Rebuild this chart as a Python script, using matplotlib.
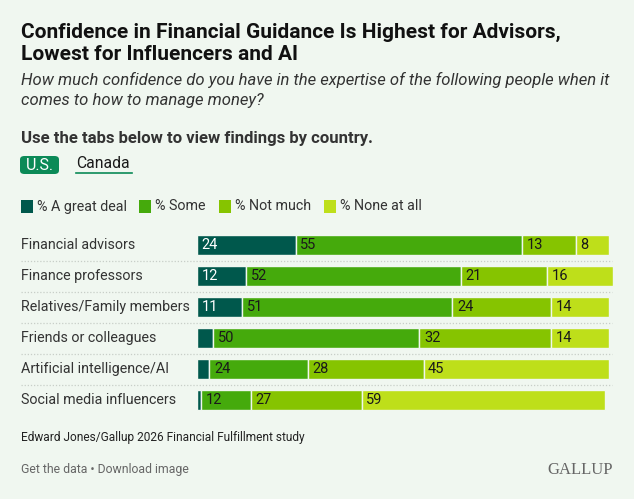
import matplotlib.pyplot as plt
from matplotlib.patches import FancyBboxPatch, Rectangle
from matplotlib.lines import Line2D

plt.rcParams['font.family'] = ['Roboto', 'DejaVu Sans']

# data
categories = ['Financial advisors', 'Finance professors', 'Relatives/Family members',
              'Friends or colleagues', 'Artificial intelligence/AI', 'Social media influencers']
series_names = ['% A great deal', '% Some', '% Not much', '% None at all']
great_deal = [24, 12, 11, 4, 3, 1]
some = [55, 52, 51, 50, 24, 12]
not_much = [13, 21, 24, 32, 28, 27]
none_at_all = [8, 16, 14, 14, 45, 59]
colors = ['#00584C', '#45AA0C', '#86C400', '#BEDF1A']
text_colors = ['white', '#1a1a1a', '#1a1a1a', '#1a1a1a']

W, H = 634, 499
bg = '#F0F7F0'
fig = plt.figure(figsize=(W / 100, H / 100), dpi=100, facecolor=bg)

def fx(x):
    return x / W

def fy(y):
    return 1 - y / H

# header texts
fig.text(fx(21), fy(32), 'Confidence in Financial Guidance Is Highest for Advisors,',
         fontsize=15, fontweight='bold', color='#111111', va='center')
fig.text(fx(21), fy(55), 'Lowest for Influencers and AI',
         fontsize=15, fontweight='bold', color='#111111', va='center')
fig.text(fx(21), fy(80), 'How much confidence do you have in the expertise of the following people when it',
         fontsize=12, style='italic', color='#333333', va='center')
fig.text(fx(21), fy(100), 'comes to how to manage money?',
         fontsize=12, style='italic', color='#333333', va='center')
fig.text(fx(21), fy(139), 'Use the tabs below to view findings by country.',
         fontsize=12, fontweight='bold', color='#333333', va='center')

# tabs
tab = FancyBboxPatch((fx(20), fy(174)), fx(39), 18 / H,
                     boxstyle='round,pad=0,rounding_size=0.007',
                     transform=fig.transFigure, facecolor='#0B8A57', edgecolor='none')
fig.add_artist(tab)
fig.text(fx(39.5), fy(165), 'U.S.', fontsize=11.5, color='white', ha='center', va='center')
fig.text(fx(76), fy(164), 'Canada', fontsize=11.3, color='#1a1a1a', va='center')
fig.add_artist(Line2D([fx(76), fx(132)], [fy(173), fy(173)], color='#0B8A57', lw=1.2,
                      transform=fig.transFigure))

# legend
legend_x = [21, 139, 219, 324]
for lx, name, c in zip(legend_x, series_names, colors):
    fig.add_artist(Rectangle((fx(lx), fy(213)), fx(12), 13 / H, transform=fig.transFigure,
                             facecolor=c, edgecolor='none'))
    fig.text(fx(lx + 16), fy(206.5), name, fontsize=10.3, color='#333333', va='center')

# bars
bar_left, bar_right = 197, 613
top = 229.5
row_h = 31
n = len(categories)
ax = fig.add_axes([fx(bar_left), fy(top + row_h * n), (bar_right - bar_left) / W, row_h * n / H])
ax.set_facecolor('none')
ax.set_xlim(0, 101)
ax.set_ylim(n - 0.5, -0.5)
ax.axis('off')

series = [great_deal, some, not_much, none_at_all]
ypos = list(range(n))
left = [0] * n
for vals, c, tc in zip(series, colors, text_colors):
    ax.barh(ypos, vals, left=left, height=0.645, color=c, edgecolor=bg, linewidth=1)
    for i, v in enumerate(vals):
        if v >= 8:
            ax.text(left[i] + 1.1, i, str(v), fontsize=10.5, color=tc, va='center', ha='left')
    left = [l + v for l, v in zip(left, vals)]

# dotted separators and category labels
tr = ax.get_yaxis_transform()
x0 = (21 - bar_left) / (bar_right - bar_left)
x1 = (612 - bar_left) / (bar_right - bar_left)
for i in range(n - 1):
    ax.plot([x0, x1], [i + 0.5, i + 0.5], transform=tr, color='#C8CEC8', lw=0.9,
            linestyle=(0, (1, 1.5)), clip_on=False)
for i, cat in enumerate(categories):
    ax.text(x0, i, cat, transform=tr, fontsize=10.3, color='#333333', va='center', ha='left')

# footer
fig.text(fx(21), fy(437), 'Edward Jones/Gallup 2026 Financial Fulfillment study',
         fontsize=8.6, color='#222222', va='center')
fig.text(fx(21), fy(470), 'Get the data \u2022 Download image',
         fontsize=8.8, color='#666666', va='center')
fig.text(fx(613), fy(470), 'GALLUP', fontsize=12, family='Liberation Serif',
         color='#666666', va='center', ha='right')

fig.savefig('out.png', dpi=100, facecolor=bg)
